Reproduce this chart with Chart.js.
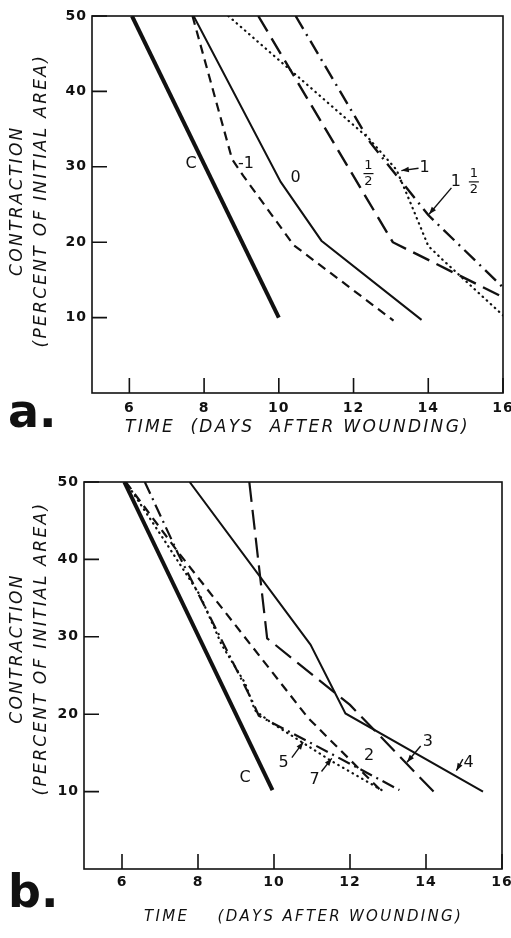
<!DOCTYPE html>
<html>
<head>
<meta charset="utf-8">
<script src="https://cdn.jsdelivr.net/npm/chart.js@4.4.0/dist/chart.umd.min.js"></script>
<style>
  body { margin: 0; background: #fff; width: 511px; height: 938px; position: relative; overflow: hidden; }
  canvas { position: absolute; left: 0; }
  #chartA { top: 0; }
  #chartB { top: 470px; }
  .panel { position: absolute; font-family: "DejaVu Sans"; font-size: 46px; font-weight: bold; color: #111; line-height: 1; }
</style>
</head>
<body>
<canvas id="chartA" width="511" height="470"></canvas>
<canvas id="chartB" width="511" height="468"></canvas>
<div class="panel" style="left:8px;top:388px">a.</div>
<div class="panel" style="left:8px;top:868px">b.</div>
<script>
// Axis ticks (both panels)
const xTicks = [6, 8, 10, 12, 14, 16];
const yTicks = [10, 20, 30, 40, 50];

// Panel a: days after wounding vs contraction (%)
const aC_x = [6.07, 10.0];
const aC_y = [50, 10];
const aM1_x = [7.69, 8.75, 9.05, 10.4, 13.07];
const aM1_y = [50, 31, 28.8, 19.6, 9.6];
const a0_x = [7.72, 10.05, 11.14, 13.82];
const a0_y = [50, 28, 20.2, 9.7];
const aHalf_x = [9.45, 13.05, 16];
const aHalf_y = [50, 20, 12.7];
const aOne_x = [8.65, 12.4, 13.15, 13.5, 14.0, 14.4, 16];
const aOne_y = [50, 33.8, 29.6, 25.5, 19.5, 17.6, 10.3];
const aOneHalf_x = [10.45, 12.45, 14.0, 16];
const aOneHalf_y = [50, 33.2, 23.6, 14.0];

// Panel b
const bC_x = [6.06, 9.96];
const bC_y = [50, 10.2];
const b2_x = [6.1, 7.5, 10.9, 12.8];
const b2_y = [50, 40.8, 19.5, 10.2];
const b3_x = [9.35, 9.82, 12.0, 14.2];
const b3_y = [50, 29.8, 21.2, 10];
const b4_x = [7.78, 10.96, 11.88, 15.5];
const b4_y = [50, 29.0, 20.1, 10];
const b5_x = [6.6, 7.47, 9.4, 9.6, 11.0, 13.3];
const b5_y = [50, 40.8, 22, 19.8, 16.2, 10.2];
const b7_x = [6.1, 7.03, 8.05, 8.62, 9.24, 9.5, 9.9, 11.53, 12.94];
const b7_y = [50, 43.1, 35.4, 29.0, 24.0, 20.5, 19.0, 13.9, 9.9];

// curve labels, in data units
const aLabels = [
  { t: "C", x: 7.65, y: 30.4 },
  { t: "-1", x: 9.12, y: 30.4 },
  { t: "0", x: 10.45, y: 28.5 },
  { t: "1/2", x: 12.4, y: 29.1 },
  { t: "1", x: 13.9, y: 29.8 },
  { t: "1", x: 14.74, y: 28.0 },
  { t: "1/2", x: 15.22, y: 28.0 },
];
const aArrows = [
  { x1: 13.74, y1: 29.8, x2: 13.28, y2: 29.5 },
  { x1: 14.62, y1: 27.2, x2: 14.02, y2: 23.7 },
];
const bLabels = [
  { t: "C", x: 9.24, y: 11.8 },
  { t: "2", x: 12.5, y: 14.6 },
  { t: "3", x: 14.05, y: 16.4 },
  { t: "4", x: 15.12, y: 13.75 },
  { t: "5", x: 10.25, y: 13.7 },
  { t: "7", x: 11.07, y: 11.5 },
];
const bArrows = [
  { x1: 13.86, y1: 15.9, x2: 13.5, y2: 13.8 },
  { x1: 14.97, y1: 14.2, x2: 14.8, y2: 12.7 },
  { x1: 10.47, y1: 14.4, x2: 10.77, y2: 16.4 },
  { x1: 11.25, y1: 12.6, x2: 11.52, y2: 14.3 },
];

const INK = "#111";
const FONT = "DejaVu Sans";

const pts = (xs, ys) => xs.map((x, i) => ({ x: x, y: ys[i] }));

const line = (xs, ys, width, dash, cap) => ({
  data: pts(xs, ys),
  borderColor: INK,
  borderWidth: width,
  borderDash: dash || [],
  borderCapStyle: cap || "butt",
  pointRadius: 0,
  tension: 0,
  fill: false,
});

const drawArrow = (ctx, x1, y1, x2, y2) => {
  const ang = Math.atan2(y2 - y1, x2 - x1);
  ctx.beginPath();
  ctx.moveTo(x1, y1);
  ctx.lineTo(x2, y2);
  ctx.stroke();
  ctx.beginPath();
  ctx.moveTo(x2, y2);
  ctx.lineTo(x2 - 8 * Math.cos(ang - 0.35), y2 - 8 * Math.sin(ang - 0.35));
  ctx.lineTo(x2 - 8 * Math.cos(ang + 0.35), y2 - 8 * Math.sin(ang + 0.35));
  ctx.closePath();
  ctx.fill();
};

// frame, inward ticks and curve labels
// (axis titles get wider letter spacing; tick labels are drawn later, on z 1)
const framePlugin = {
  id: "frame",
  beforeDraw(chart, args, opts) {
    chart.ctx.letterSpacing = opts.titleSpacing + "px";
  },
  beforeDatasetsDraw(chart) {
    chart.ctx.letterSpacing = "0px";
  },
  afterDatasetsDraw(chart, args, opts) {
    const { ctx, chartArea: a, scales } = chart;
    const x = scales.x, y = scales.y;
    ctx.save();
    ctx.strokeStyle = INK;
    ctx.fillStyle = INK;
    ctx.lineWidth = 1.6;
    ctx.strokeRect(a.left, a.top, a.right - a.left, a.bottom - a.top);
    ctx.beginPath();
    x.ticks.forEach((t) => {
      const px = x.getPixelForValue(t.value);
      ctx.moveTo(px, a.bottom);
      ctx.lineTo(px, a.bottom - opts.tick);
    });
    y.ticks.forEach((t) => {
      const py = y.getPixelForValue(t.value);
      ctx.moveTo(a.left, py);
      ctx.lineTo(a.left + opts.tick, py);
    });
    ctx.stroke();

    ctx.font = "16px " + FONT;
    ctx.textAlign = "center";
    ctx.textBaseline = "middle";
    opts.labels.forEach((l) => {
      const px = x.getPixelForValue(l.x);
      const py = y.getPixelForValue(l.y);
      if (l.t === "1/2") {
        ctx.font = "13px " + FONT;
        ctx.fillText("1", px, py - 8);
        ctx.fillText("2", px, py + 8);
        ctx.lineWidth = 1.2;
        ctx.beginPath();
        ctx.moveTo(px - 5, py);
        ctx.lineTo(px + 5, py);
        ctx.stroke();
        ctx.font = "16px " + FONT;
      } else {
        ctx.fillText(l.t, px, py);
      }
    });
    ctx.lineWidth = 1.4;
    opts.arrows.forEach((r) => {
      drawArrow(ctx, x.getPixelForValue(r.x1), y.getPixelForValue(r.y1),
        x.getPixelForValue(r.x2), y.getPixelForValue(r.y2));
    });
    ctx.restore();
    ctx.letterSpacing = "1px";
  },
};

const makeOptions = (cfg) => ({
  responsive: false,
  animation: false,
  events: [],
  layout: { padding: { top: cfg.top, right: cfg.right, left: 0, bottom: 0 } },
  plugins: {
    legend: { display: false },
    tooltip: { enabled: false },
    frame: { tick: 15, labels: cfg.labels, arrows: cfg.arrows, titleSpacing: 2.3 },
  },
  scales: {
    x: {
      type: "linear",
      min: 5,
      max: 16,
      grid: { display: false, drawTicks: false },
      border: { display: false },
      afterBuildTicks: (s) => { s.ticks = xTicks.map((v) => ({ value: v })); },
      afterFit: (s) => { s.height = cfg.xHeight; s.paddingLeft = 0; s.paddingRight = 0; },
      ticks: { z: 1, color: INK, font: { family: FONT, size: 14, weight: "bold" }, padding: cfg.xPad, maxRotation: 0, autoSkip: false },
      title: {
        display: true,
        text: cfg.xTitle,
        color: INK,
        font: { family: FONT, size: cfg.xTitleSize, style: "italic" },
        padding: { top: 0, bottom: cfg.xTitlePad },
      },
    },
    y: {
      type: "linear",
      min: 0,
      max: 50,
      grid: { display: false, drawTicks: false },
      border: { display: false },
      afterBuildTicks: (s) => { s.ticks = yTicks.map((v) => ({ value: v })); },
      afterFit: (s) => { s.width = cfg.yWidth; s.paddingTop = 0; s.paddingBottom = 0; },
      ticks: { z: 1, color: INK, font: { family: FONT, size: 14, weight: "bold" }, padding: 5 },
      title: {
        display: true,
        text: [cfg.yLead + "CONTRACTION", cfg.yLead + "(PERCENT OF INITIAL AREA)"],
        color: INK,
        font: { family: FONT, size: 17, style: "italic", lineHeight: 1.45 },
        padding: { top: 5, bottom: 0 },
      },
    },
  },
});

new Chart(document.getElementById("chartA"), {
  type: "line",
  data: {
    datasets: [
      line(aC_x, aC_y, 4),
      line(aM1_x, aM1_y, 2.2, [9, 6]),
      line(a0_x, a0_y, 2),
      line(aHalf_x, aHalf_y, 2.4, [18, 8]),
      line(aOne_x, aOne_y, 2.2, [0.5, 5], "round"),
      line(aOneHalf_x, aOneHalf_y, 2.4, [15, 6, 2, 6]),
    ],
  },
  options: makeOptions({
    top: 16, right: 8, yWidth: 92, xHeight: 77, xPad: 7, xTitlePad: 32, xTitleSize: 17,
    xTitle: "TIME  (DAYS  AFTER WOUNDING)", yLead: " ", labels: aLabels, arrows: aArrows,
  }),
  plugins: [framePlugin],
});

new Chart(document.getElementById("chartB"), {
  type: "line",
  data: {
    datasets: [
      line(bC_x, bC_y, 4),
      line(b2_x, b2_y, 2.2, [9, 6]),
      line(b3_x, b3_y, 2.2, [20, 8]),
      line(b4_x, b4_y, 2),
      line(b5_x, b5_y, 2.2, [13, 5, 2, 5]),
      line(b7_x, b7_y, 2.2, [0.5, 5], "round"),
    ],
  },
  options: makeOptions({
    top: 12, right: 9, yWidth: 84, xHeight: 69, xPad: 5, xTitlePad: 12, xTitleSize: 15,
    xTitle: "   TIME    (DAYS AFTER WOUNDING)", yLead: "       ", labels: bLabels, arrows: bArrows,
  }),
  plugins: [framePlugin],
});
</script>
</body>
</html>
